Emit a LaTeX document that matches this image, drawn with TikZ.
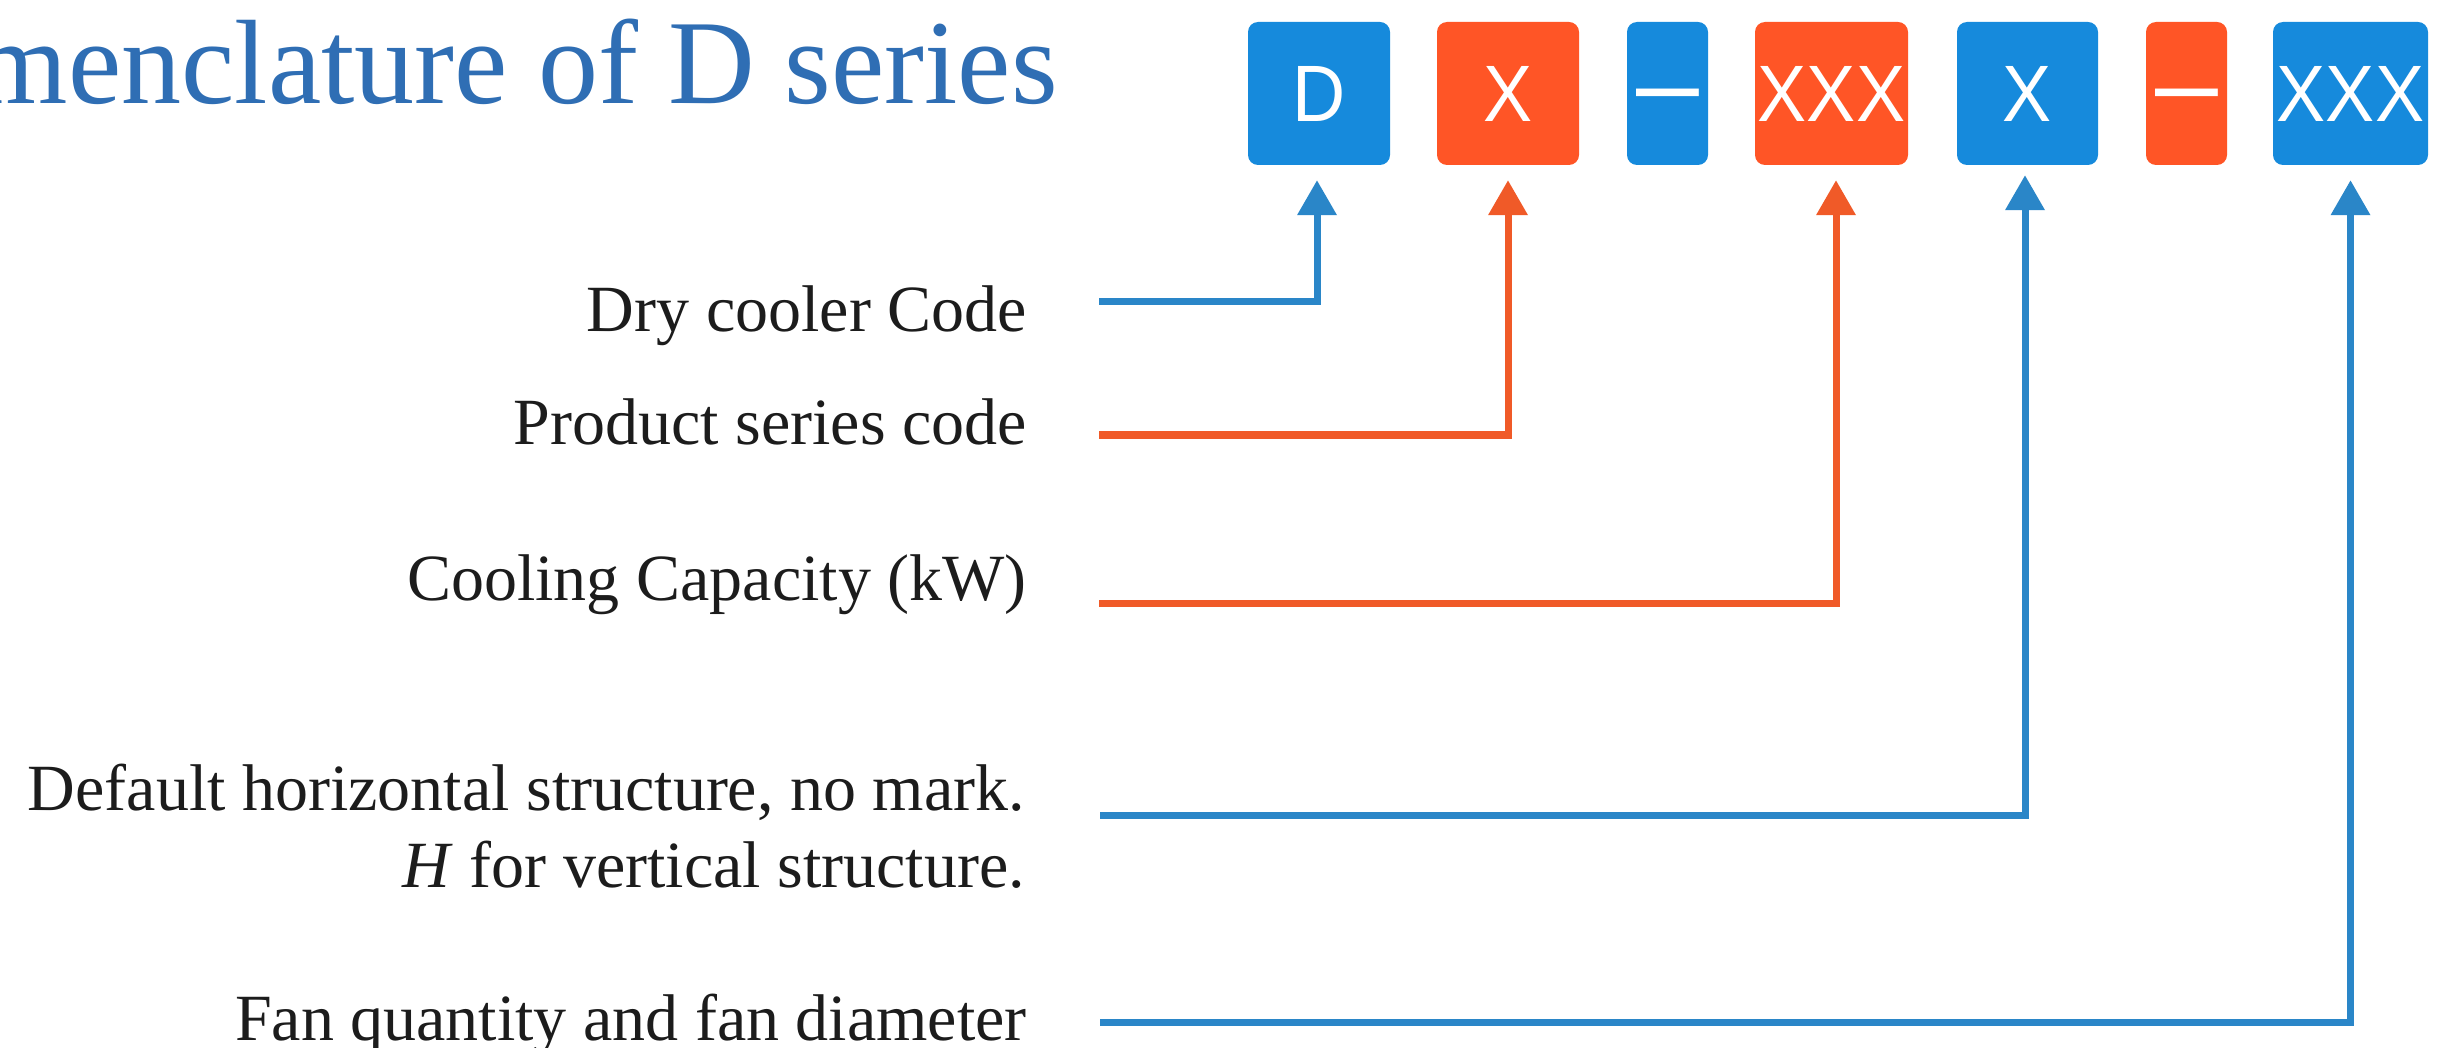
\documentclass[tikz,border=0pt]{standalone}
\usepackage{fontspec}
\setmainfont{Liberation Serif}
\newfontfamily\boxfont[FakeStretch=0.92]{Liberation Sans}
\newfontfamily\dashfont{Liberation Sans}
\usetikzlibrary{arrows.meta}
\definecolor{bxblue}{HTML}{168ADC}
\definecolor{bxorange}{HTML}{FF5526}
\definecolor{lnblue}{HTML}{2A86C8}
\definecolor{lnorange}{HTML}{F05A28}
\definecolor{ttlblue}{HTML}{2F6EB4}
\definecolor{lbltext}{HTML}{1C1C1C}
\begin{document}
\begin{tikzpicture}[x=1pt,y=-1pt,
  codebox/.style={rounded corners=10pt, inner sep=0pt, minimum height=143pt,
    text=white, font=\boxfont\fontsize{80}{80}\selectfont,
    text height=57pt, text depth=0pt},
  bluebox/.style={codebox, fill=bxblue},
  orangebox/.style={codebox, fill=bxorange},
  dashtext/.style={font=\dashfont\fontsize{113}{113}\selectfont},
  lbl/.style={anchor=base east, text=lbltext, inner sep=0pt,
    font=\fontsize{66}{77}\selectfont},
  conn/.style={line width=7pt, -{Triangle[length=35pt,width=38pt]}, shorten >=15pt},
  bconn/.style={conn, draw=lnblue},
  oconn/.style={conn, draw=lnorange},
]
\fill[white] (0,0) rectangle (2442,1048);
\useasboundingbox (0,0) rectangle (2442,1048);

% title
\node[anchor=base east, text=ttlblue, inner sep=0pt,
  font=\fontsize{120}{120}\selectfont] (title) at (1058,104) {menclature of D series};

% code boxes
\node[bluebox, minimum width=142pt] (bD) at (1319,93.5) {D};
\node[orangebox, minimum width=142pt] (bX) at (1508,93.5) {X};
\node[bluebox, minimum width=81pt, dashtext] (bDashA) at (1667.5,93.5) {–};
\node[orangebox, minimum width=153pt] (bXXX) at (1831.5,93.5) {XXX};
\node[bluebox, minimum width=141pt] (bXb) at (2027.5,93.5) {X};
\node[orangebox, minimum width=81pt, dashtext] (bDashB) at (2186.5,93.5) {–};
\node[bluebox, minimum width=155pt] (bXXXb) at (2350.5,93.5) {XXX};

% labels
\node[lbl] (l1) at (1027,332) {Dry cooler Code};
\node[lbl] (l2) at (1027,445) {Product series code};
\node[lbl] (l3) at (1027,600) {Cooling Capacity (kW)};
\node[lbl] (l4) at (1025,810) {\begin{tabular}[t]{@{}r@{}}Default horizontal structure, no mark.\\ \textit{H} for vertical structure.\end{tabular}};
\node[lbl] (l5) at (1027,1040) {Fan quantity and fan diameter};

% connector starts
\coordinate (s1) at (1099,302);
\coordinate (s2) at (1099,435);
\coordinate (s3) at (1099,603);
\coordinate (s4) at (1100,815);
\coordinate (s5) at (1100,1022);

% connectors
\draw[bconn] (s1) -| ([xshift=-2pt]bD.south);
\draw[oconn] (s2) -| (bX.south);
\draw[oconn] (s3) -| ([xshift=4.5pt]bXXX.south);
\draw[bconn, shorten >=10pt] (s4) -| ([xshift=-2.5pt]bXb.south);
\draw[bconn] (s5) -| (bXXXb.south);
\end{tikzpicture}
\end{document}
